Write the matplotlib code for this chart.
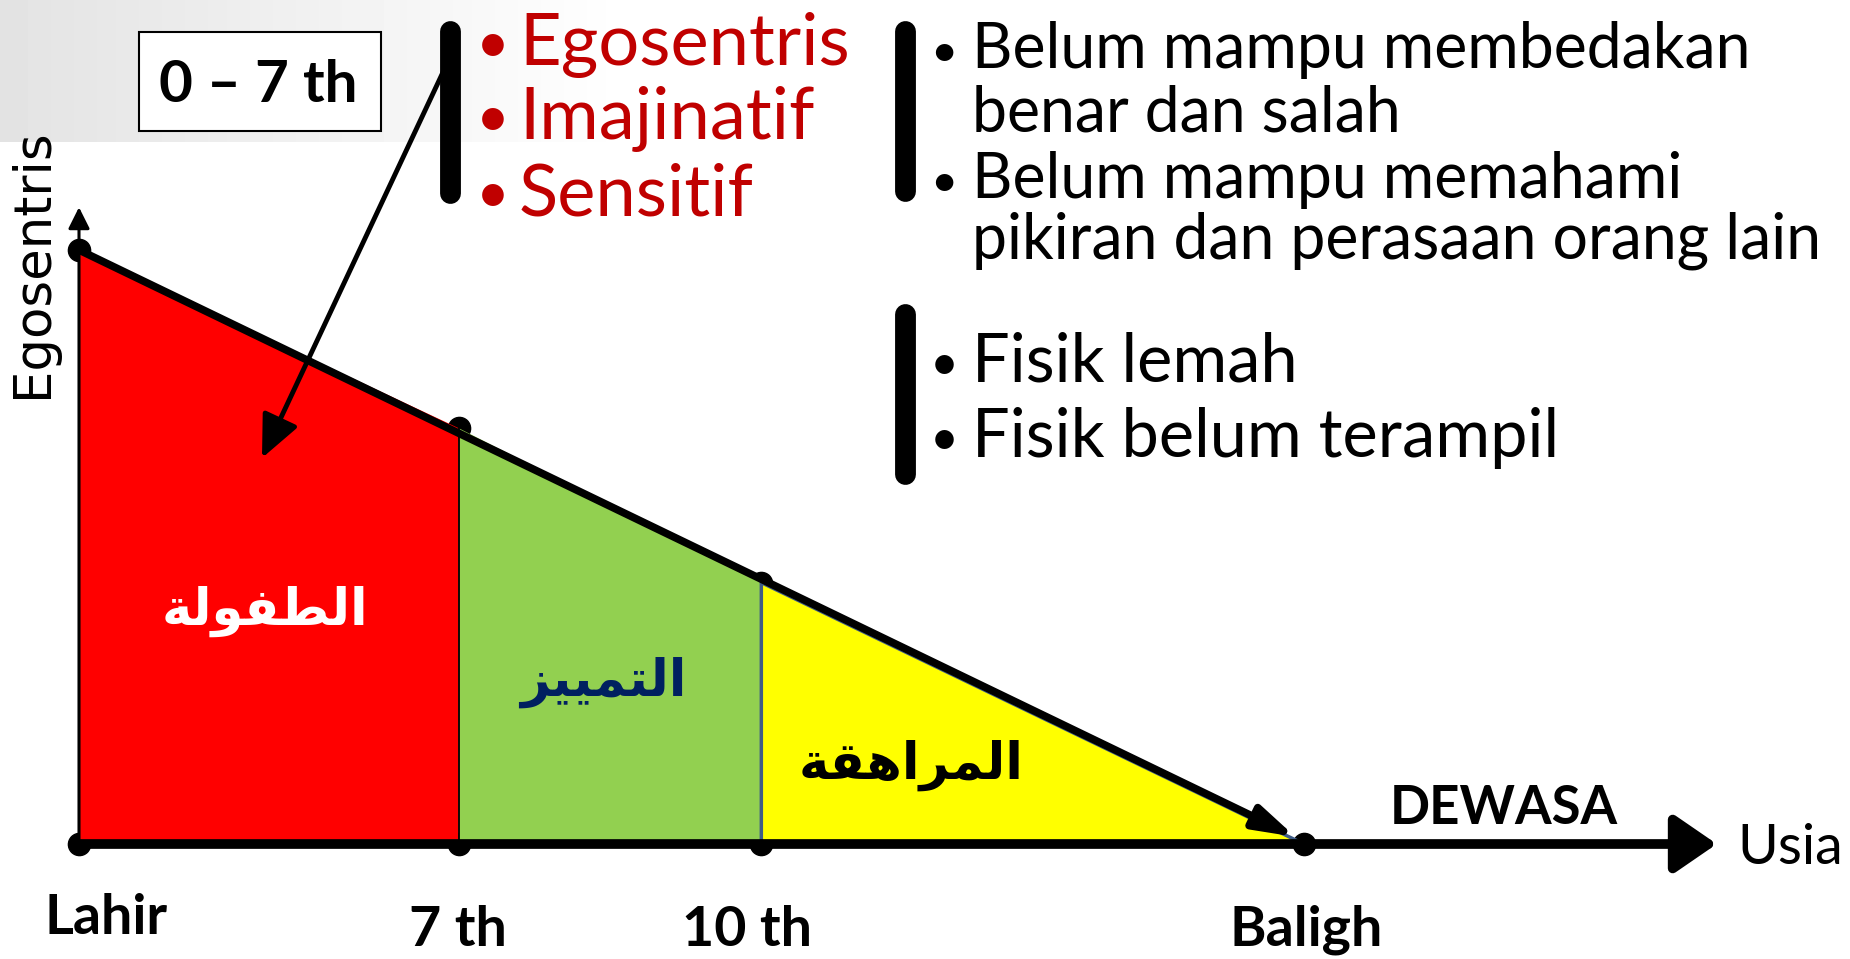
import numpy as np
import matplotlib.pyplot as plt
from matplotlib.lines import Line2D
from matplotlib.patches import Rectangle

# stages along the age axis (diagram units, Baligh = 10)
stage_labels = ['Lahir', '7 th', '10 th', 'Baligh']
stage_x = [0, 3.1, 5.57, 10]
# egosentris level at each stage boundary (1 = at birth)
ego_level = [1.0, 0.70, 0.44, 0.0]
stage_colors = ['#FF0000', '#92D050', '#FFFF00']

# Arabic stage names, written in presentation forms (visual order) so they join:
# الطفولة / التمييز / المراهقة
stage_names = ['\ufe94\ufedf\ufeee\ufed4\ufec4\ufedf\ufe8d',
               '\ufeb0\ufef4\ufef4\ufee4\ufe98\ufedf\ufe8d',
               '\ufe94\ufed8\ufeeb\ufe8d\ufeae\ufee4\ufedf\ufe8d']
name_colors = ['white', '#002060', 'black']

traits_red = ['Egosentris', 'Imajinatif', 'Sensitif']
traits_mind = ['Belum mampu membedakan', 'benar dan salah',
               'Belum mampu memahami', 'pikiran dan perasaan orang lain']
traits_body = ['Fisik lemah', 'Fisik belum terampil']

W, H = 1850, 959
FONT = ['Lato', 'DejaVu Sans']


def fxy(x, y):
    # full-size pixel position -> figure fraction
    return x / W, 1 - y / H


fig = plt.figure(figsize=(W / 100, H / 100), dpi=100)

# slide background: light grey fade in the top-left corner
bg = fig.add_axes([0, 0, 1, 1], zorder=0)
gx = np.linspace(0, 1, 400)
shade = 0.89 + 0.11 * np.clip(gx / 0.34, 0, 1)
grad = np.tile(shade, (10, 1))
bg.imshow(grad, cmap='gray', vmin=0, vmax=1, aspect='auto',
          extent=[0, 1, 1 - 142 / H, 1])
bg.set_xlim(0, 1)
bg.set_ylim(0, 1)
bg.axis('off')

# main diagram axes, origin (Lahir) at pixel (79, 844)
ax = fig.add_axes([0, 0, 1, 1], zorder=1)
ax.patch.set_alpha(0)
sx, sy = 122.5, 594.0
ax.set_xlim(-79 / sx, (W - 79) / sx)
ax.set_ylim((844 - H) / sy, 844 / sy)
ax.axis('off')

# dots at the stage points (partly hidden behind the areas)
ax.plot(stage_x, [0] * len(stage_x), 'o', color='black', ms=16, zorder=1)
ax.plot(stage_x[:3], ego_level[:3], 'o', color='black', ms=16, zorder=1)

# stage areas
for i in range(3):
    xs = [stage_x[i], stage_x[i + 1], stage_x[i + 1], stage_x[i]]
    ys = [ego_level[i], ego_level[i + 1], 0, 0]
    if i == 2:
        ax.fill(xs, ys, facecolor=stage_colors[i], edgecolor='#3E5C86',
                lw=2.5, zorder=2)
    else:
        ax.fill(xs, ys, facecolor=stage_colors[i], edgecolor='none', zorder=2)
ax.plot([stage_x[1], stage_x[1]], [0, ego_level[1]], color='black', lw=1.3, zorder=3)

# egosentris decreasing line
ax.annotate('', xy=(stage_x[3] - 0.07, 0.012), xytext=(stage_x[0], ego_level[0]),
            arrowprops=dict(arrowstyle='-|>,head_length=1.0,head_width=0.3',
                            mutation_scale=24, lw=5.5, color='black',
                            shrinkA=0, shrinkB=0), zorder=4)

# y axis (Egosentris)
ax.annotate('', xy=(0, 1.072), xytext=(0, 0),
            arrowprops=dict(arrowstyle='-|>,head_length=1.0,head_width=0.5',
                            mutation_scale=13, lw=2.2, color='black',
                            shrinkA=0, shrinkB=0), zorder=4)
# x axis (Usia)
ax.annotate('', xy=(13.37, 0), xytext=(0, 0),
            arrowprops=dict(arrowstyle='-|>,head_length=0.8,head_width=0.55',
                            mutation_scale=32, lw=7, color='black',
                            shrinkA=0, shrinkB=0), zorder=4)

# stage labels under the axis
label_off = [(27, -74), (-1, -86), (-14, -86), (2, -86)]
for lab, x, (dx, dy) in zip(stage_labels, stage_x, label_off):
    ax.annotate(lab, xy=(x, 0), xytext=(dx * 0.72, dy * 0.72),
                textcoords='offset points', ha='center', va='center',
                fontsize=40, fontweight='bold', family=FONT)

# Arabic names inside the areas
name_pos = [(265, 611), (603, 682), (911, 765)]
for name, col, (px, py) in zip(stage_names, name_colors, name_pos):
    fig.text(*fxy(px, py), name, ha='center', va='center', color=col,
             fontsize=37, fontweight='bold', family='DejaVu Sans', zorder=5)

fig.text(*fxy(1504, 808), 'DEWASA', ha='center', va='center',
         fontsize=38, fontweight='bold', family=FONT)
fig.text(*fxy(1737, 849), 'Usia', ha='left', va='center', fontsize=40, family=FONT)
fig.text(*fxy(33, 263), 'Egosentris', ha='center', va='center', rotation=90,
         fontsize=37, family='DejaVu Sans')

# "0 - 7 th" box
fig.patches.append(Rectangle(fxy(139, 131), 242 / W, 99 / H, transform=fig.transFigure,
                             facecolor='white', edgecolor='black', lw=1.5))
fig.text(*fxy(258, 86), '0 \u2013 7 th', ha='center', va='center',
         fontsize=42, fontweight='bold', family=FONT)

# bracket bars
for x, y0, y1 in [(450, 31, 193), (905, 31, 191), (905, 314, 474)]:
    fig.add_artist(Line2D([x / W, x / W], [1 - y0 / H, 1 - y1 / H],
                          transform=fig.transFigure, color='black', lw=15,
                          solid_capstyle='round'))

# arrow from the first bracket into the red area
ax.annotate('', xy=fxy(262, 458), xycoords='figure fraction',
            xytext=fxy(452, 53), textcoords='figure fraction',
            arrowprops=dict(arrowstyle='-|>,head_length=1.0,head_width=0.45',
                            mutation_scale=26, lw=3.5, color='black',
                            shrinkA=0, shrinkB=0), zorder=6)

# red trait list
for t, base in zip(traits_red, [65, 139, 216]):
    fig.text(*fxy(493, base - 19), '\u2022', ha='center', va='center',
             color='#C00000', fontsize=42, family=FONT)
    fig.text(*fxy(519, base), t, ha='left', va='baseline',
             color='#C00000', fontsize=52, family=FONT)

# black trait lists
for t, base in zip(traits_mind, [68, 132, 198, 258]):
    if t.startswith('Belum'):
        fig.text(*fxy(944, base - 15), '\u2022', ha='center', va='center',
                 fontsize=34, family=FONT)
    fig.text(*fxy(972, base), t, ha='left', va='baseline', fontsize=45, family=FONT)
for t, base in zip(traits_body, [382, 457]):
    fig.text(*fxy(944, base - 16), '\u2022', ha='center', va='center',
             fontsize=36, family=FONT)
    fig.text(*fxy(972, base), t, ha='left', va='baseline', fontsize=48, family=FONT)

fig.savefig('out.png', dpi=100)
